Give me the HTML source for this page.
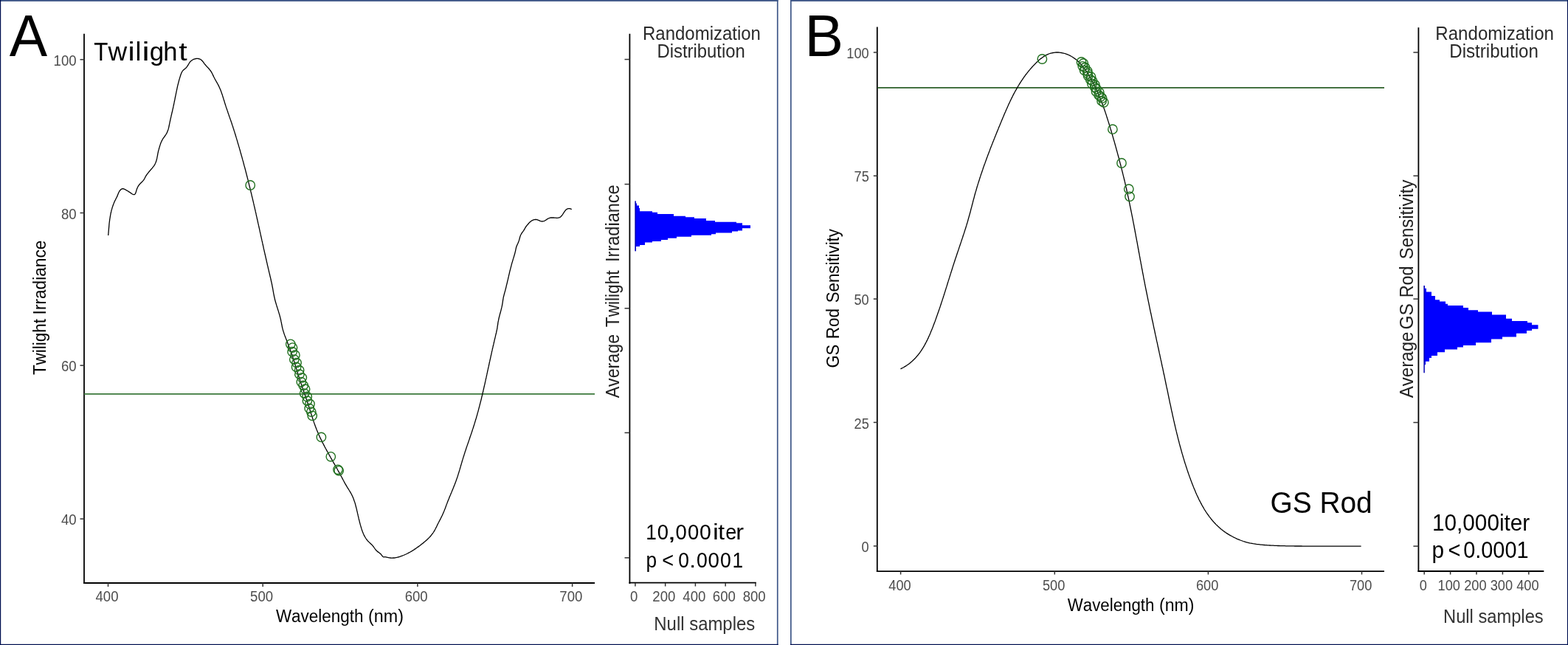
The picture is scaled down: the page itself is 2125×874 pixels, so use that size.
<!DOCTYPE html>
<html><head><meta charset="utf-8"><title>Twilight and GS Rod randomization</title>
<style>
html,body{margin:0;padding:0;background:#fff;}
body{width:2125px;height:874px;overflow:hidden;}
svg{display:block;font-family:'Liberation Sans', Arial, sans-serif;font-kerning:none;}
</style></head><body>
<svg width="2125" height="874" viewBox="0 0 2125 874">
<rect width="2125" height="874" fill="#fff"/>
<rect x="0" y="0" width="1054.6" height="1.9" fill="#3f5788"/>
<rect x="1071" y="0" width="1054" height="1.9" fill="#3f5788"/>
<rect x="0" y="0" width="1.2" height="874" fill="#001050"/>
<rect x="1052.9" y="0" width="1.7" height="874" fill="#3f5788"/>
<rect x="1071" y="0" width="1.7" height="874" fill="#3f5788"/>
<rect x="2123.9" y="0" width="1.1" height="874" fill="#001050"/>
<rect x="0" y="872.8" width="1054.6" height="1.2" fill="#001050"/>
<rect x="1071" y="872.8" width="1054" height="1.2" fill="#001050"/>
<text x="12.75" y="76.10" font-size="79.00" fill="#000" textLength="51.40" lengthAdjust="spacingAndGlyphs">A</text>
<text y="82.30" font-size="35.50" fill="#000"><tspan x="127.30" textLength="19.12" lengthAdjust="spacingAndGlyphs">T</tspan><tspan x="146.55" textLength="25.66" lengthAdjust="spacingAndGlyphs">w</tspan><tspan x="173.46" textLength="9.10" lengthAdjust="spacingAndGlyphs">i</tspan><tspan x="183.62" textLength="7.84" lengthAdjust="spacingAndGlyphs">l</tspan><tspan x="192.56" textLength="10.11" lengthAdjust="spacingAndGlyphs">i</tspan><tspan x="202.63" textLength="19.42" lengthAdjust="spacingAndGlyphs">g</tspan><tspan x="221.20" textLength="19.25" lengthAdjust="spacingAndGlyphs">h</tspan><tspan x="242.38" textLength="11.42" lengthAdjust="spacingAndGlyphs">t</tspan></text>
<line x1="114" y1="45.8" x2="114" y2="791" stroke="#000" stroke-width="1.8"/>
<line x1="113.1" y1="790" x2="806" y2="790" stroke="#000" stroke-width="1.8"/>
<line x1="108.5" y1="80.7" x2="114" y2="80.7" stroke="#333" stroke-width="1.5"/>
<text x="72.59" y="88.70" font-size="19.72" fill="#4d4d4d" textLength="31.03" lengthAdjust="spacingAndGlyphs">100</text>
<line x1="108.5" y1="288.5" x2="114" y2="288.5" stroke="#333" stroke-width="1.5"/>
<text x="82.94" y="296.50" font-size="19.72" fill="#4d4d4d" textLength="20.69" lengthAdjust="spacingAndGlyphs">80</text>
<line x1="108.5" y1="495.2" x2="114" y2="495.2" stroke="#333" stroke-width="1.5"/>
<text x="82.94" y="503.20" font-size="19.72" fill="#4d4d4d" textLength="20.69" lengthAdjust="spacingAndGlyphs">60</text>
<line x1="108.5" y1="703.1" x2="114" y2="703.1" stroke="#333" stroke-width="1.5"/>
<text x="82.94" y="711.10" font-size="19.72" fill="#4d4d4d" textLength="20.69" lengthAdjust="spacingAndGlyphs">40</text>
<line x1="146.5" y1="790" x2="146.5" y2="795" stroke="#333" stroke-width="1.5"/>
<text x="129.53" y="815.00" font-size="19.72" fill="#4d4d4d" textLength="31.03" lengthAdjust="spacingAndGlyphs">400</text>
<line x1="356.2" y1="790" x2="356.2" y2="795" stroke="#333" stroke-width="1.5"/>
<text x="339.07" y="815.00" font-size="19.72" fill="#4d4d4d" textLength="31.03" lengthAdjust="spacingAndGlyphs">500</text>
<line x1="565.9" y1="790" x2="565.9" y2="795" stroke="#333" stroke-width="1.5"/>
<text x="548.67" y="815.00" font-size="19.72" fill="#4d4d4d" textLength="31.03" lengthAdjust="spacingAndGlyphs">600</text>
<line x1="775.6" y1="790" x2="775.6" y2="795" stroke="#333" stroke-width="1.5"/>
<text x="758.37" y="815.00" font-size="19.72" fill="#4d4d4d" textLength="31.03" lengthAdjust="spacingAndGlyphs">700</text>
<text x="373.90" y="843.20" font-size="24.06" fill="#000" textLength="118.56" lengthAdjust="spacingAndGlyphs">Wavelength</text>
<text x="499.05" y="843.20" font-size="24.06" fill="#000" textLength="47.89" lengthAdjust="spacingAndGlyphs">(nm)</text>
<text x="-0.50" y="0" font-size="24.06" fill="#000" textLength="75.97" lengthAdjust="spacingAndGlyphs" transform="translate(61.6 507.6) rotate(-90)">Twilight</text>
<text x="-2.09" y="0" font-size="24.06" fill="#000" textLength="100.80" lengthAdjust="spacingAndGlyphs" transform="translate(61.6 424.3) rotate(-90)">Irradiance</text>
<line x1="114" y1="533.9" x2="806" y2="533.9" stroke="#3b783b" stroke-width="1.8"/>
<path d="M146.7 319.0 L146.8 317.8 L146.9 316.6 L147.0 315.4 L147.1 314.2 L147.2 313.0 L147.3 311.8 L147.4 310.6 L147.5 309.4 L147.6 308.2 L147.7 307.0 L147.8 305.8 L147.9 304.6 L148.0 303.4 L148.1 302.2 L148.3 301.0 L148.4 299.8 L148.6 298.6 L148.7 297.4 L148.9 296.3 L149.1 295.1 L149.3 293.9 L149.5 292.7 L149.7 291.5 L149.9 290.4 L150.1 289.2 L150.4 288.0 L150.7 286.9 L150.9 285.7 L151.2 284.6 L151.6 283.4 L151.9 282.2 L152.2 281.1 L152.6 280.0 L153.0 278.8 L153.4 277.7 L153.8 276.6 L154.3 275.4 L154.7 274.3 L155.2 273.2 L155.7 272.1 L156.3 271.0 L156.8 269.9 L157.4 268.8 L157.9 267.7 L158.5 266.6 L159.0 265.6 L159.4 264.5 L159.8 263.4 L160.2 262.4 L160.7 261.3 L161.2 260.3 L161.8 259.2 L162.5 258.2 L163.4 257.2 L164.4 256.3 L165.4 255.8 L166.5 255.6 L167.5 255.8 L168.6 256.3 L169.7 256.9 L170.8 257.5 L171.9 258.1 L173.0 258.8 L174.1 259.4 L175.1 260.1 L176.2 260.8 L177.3 261.6 L178.3 262.3 L179.3 263.0 L180.3 263.4 L181.2 263.7 L182.1 263.7 L182.8 263.2 L183.4 262.4 L183.9 261.4 L184.3 260.1 L184.7 258.7 L185.1 257.4 L185.5 256.1 L186.0 254.9 L186.5 253.8 L187.1 252.7 L187.7 251.7 L188.4 250.7 L189.2 249.8 L190.0 248.9 L190.8 248.0 L191.7 247.2 L192.6 246.3 L193.4 245.4 L194.2 244.6 L194.9 243.6 L195.5 242.7 L196.0 241.8 L196.5 240.8 L197.0 239.8 L197.5 238.8 L198.1 237.8 L198.8 236.8 L199.5 235.8 L200.3 234.8 L201.1 233.8 L201.9 232.8 L202.8 231.8 L203.6 230.8 L204.4 229.9 L205.2 229.0 L206.0 228.1 L206.8 227.1 L207.5 226.2 L208.2 225.3 L208.9 224.3 L209.5 223.3 L210.1 222.3 L210.6 221.3 L211.0 220.3 L211.4 219.2 L211.8 218.1 L212.1 217.0 L212.4 215.8 L212.7 214.7 L212.9 213.5 L213.1 212.3 L213.4 211.1 L213.6 209.9 L213.8 208.7 L214.0 207.5 L214.3 206.3 L214.5 205.1 L214.8 203.9 L215.2 202.7 L215.5 201.5 L215.8 200.3 L216.2 199.2 L216.5 198.0 L216.9 196.9 L217.2 195.8 L217.6 194.7 L218.0 193.6 L218.5 192.5 L219.0 191.4 L219.5 190.4 L220.1 189.3 L220.7 188.2 L221.4 187.2 L222.2 186.1 L222.9 185.1 L223.7 184.0 L224.4 183.0 L225.1 181.9 L225.7 180.8 L226.3 179.8 L226.7 178.7 L227.2 177.6 L227.6 176.5 L228.0 175.4 L228.3 174.3 L228.6 173.2 L228.8 172.1 L229.1 171.0 L229.3 169.8 L229.5 168.7 L229.8 167.6 L230.0 166.4 L230.2 165.3 L230.5 164.1 L230.7 163.0 L231.0 161.8 L231.2 160.7 L231.5 159.5 L231.8 158.4 L232.0 157.2 L232.3 156.0 L232.6 154.8 L232.8 153.7 L233.1 152.5 L233.4 151.3 L233.7 150.1 L233.9 148.9 L234.2 147.7 L234.5 146.6 L234.7 145.4 L235.0 144.2 L235.2 143.0 L235.5 141.8 L235.7 140.6 L236.0 139.4 L236.2 138.2 L236.5 137.0 L236.7 135.8 L237.0 134.6 L237.2 133.4 L237.4 132.2 L237.7 131.0 L237.9 129.8 L238.2 128.6 L238.4 127.5 L238.6 126.3 L238.9 125.1 L239.1 123.9 L239.4 122.7 L239.6 121.5 L239.9 120.3 L240.1 119.2 L240.4 118.0 L240.6 116.8 L240.9 115.6 L241.2 114.5 L241.5 113.3 L241.8 112.1 L242.1 111.0 L242.4 109.8 L242.7 108.7 L243.0 107.5 L243.4 106.4 L243.7 105.2 L244.1 104.1 L244.4 103.0 L244.8 101.8 L245.2 100.7 L245.6 99.6 L246.1 98.5 L246.6 97.5 L247.2 96.5 L247.9 95.5 L248.8 94.7 L249.7 93.9 L250.6 93.2 L251.6 92.4 L252.5 91.6 L253.2 90.7 L253.9 89.7 L254.6 88.7 L255.2 87.6 L255.8 86.6 L256.4 85.5 L257.1 84.5 L257.8 83.6 L258.7 82.7 L259.7 82.0 L260.7 81.3 L261.8 80.7 L263.0 80.2 L264.2 79.8 L265.4 79.5 L266.7 79.4 L267.9 79.4 L269.0 79.5 L270.1 79.8 L271.2 80.2 L272.2 80.8 L273.1 81.5 L273.9 82.3 L274.7 83.2 L275.5 84.2 L276.2 85.2 L277.0 86.3 L277.8 87.3 L278.6 88.2 L279.4 89.2 L280.3 90.1 L281.1 91.0 L282.0 91.9 L282.8 92.8 L283.6 93.7 L284.3 94.6 L285.0 95.5 L285.7 96.4 L286.3 97.4 L286.9 98.4 L287.4 99.3 L287.9 100.3 L288.4 101.4 L288.9 102.4 L289.4 103.4 L289.9 104.5 L290.5 105.5 L291.0 106.6 L291.6 107.7 L292.2 108.8 L292.8 109.9 L293.5 111.0 L294.1 112.1 L294.7 113.2 L295.3 114.3 L295.9 115.4 L296.5 116.6 L297.0 117.7 L297.5 118.8 L298.0 119.9 L298.5 121.0 L299.0 122.2 L299.4 123.3 L299.8 124.4 L300.2 125.5 L300.6 126.7 L301.0 127.8 L301.4 128.9 L301.7 130.0 L302.1 131.2 L302.4 132.3 L302.8 133.4 L303.1 134.6 L303.5 135.7 L303.8 136.8 L304.2 137.9 L304.5 139.1 L304.9 140.2 L305.2 141.3 L305.6 142.5 L306.0 143.6 L306.3 144.7 L306.7 145.9 L307.1 147.0 L307.5 148.1 L307.9 149.3 L308.3 150.4 L308.7 151.5 L309.0 152.7 L309.4 153.8 L309.8 154.9 L310.2 156.1 L310.6 157.2 L311.0 158.4 L311.4 159.5 L311.8 160.6 L312.2 161.8 L312.6 162.9 L313.0 164.0 L313.4 165.2 L313.8 166.3 L314.2 167.5 L314.5 168.6 L314.9 169.8 L315.3 170.9 L315.7 172.0 L316.0 173.2 L316.4 174.3 L316.8 175.5 L317.1 176.6 L317.5 177.8 L317.9 178.9 L318.2 180.1 L318.6 181.2 L318.9 182.3 L319.3 183.5 L319.6 184.6 L320.0 185.8 L320.3 186.9 L320.7 188.1 L321.0 189.2 L321.4 190.4 L321.7 191.5 L322.0 192.7 L322.4 193.8 L322.7 195.0 L323.1 196.1 L323.4 197.3 L323.7 198.4 L324.1 199.6 L324.4 200.7 L324.7 201.9 L325.1 203.0 L325.4 204.2 L325.7 205.3 L326.0 206.5 L326.4 207.7 L326.7 208.8 L327.0 210.0 L327.3 211.1 L327.7 212.3 L328.0 213.4 L328.3 214.6 L328.6 215.7 L328.9 216.9 L329.3 218.1 L329.6 219.2 L329.9 220.4 L330.2 221.5 L330.5 222.7 L330.8 223.9 L331.1 225.0 L331.5 226.2 L331.8 227.3 L332.1 228.5 L332.4 229.7 L332.7 230.8 L333.0 232.0 L333.3 233.1 L333.6 234.3 L333.9 235.5 L334.2 236.6 L334.5 237.8 L334.8 239.0 L335.1 240.1 L335.4 241.3 L335.7 242.4 L336.0 243.6 L336.3 244.8 L336.6 245.9 L336.9 247.1 L337.2 248.3 L337.4 249.4 L337.7 250.6 L338.0 251.8 L338.3 252.9 L338.6 254.1 L338.9 255.3 L339.2 256.4 L339.5 257.6 L339.7 258.8 L340.0 259.9 L340.3 261.1 L340.6 262.3 L340.9 263.4 L341.1 264.6 L341.4 265.8 L341.7 267.0 L342.0 268.1 L342.3 269.3 L342.5 270.5 L342.8 271.6 L343.1 272.8 L343.4 274.0 L343.6 275.2 L343.9 276.3 L344.2 277.5 L344.4 278.7 L344.7 279.8 L345.0 281.0 L345.3 282.2 L345.5 283.4 L345.8 284.5 L346.1 285.7 L346.3 286.9 L346.6 288.1 L346.9 289.2 L347.1 290.4 L347.4 291.6 L347.6 292.8 L347.9 293.9 L348.2 295.1 L348.4 296.3 L348.7 297.5 L349.0 298.6 L349.2 299.8 L349.5 301.0 L349.7 302.2 L350.0 303.3 L350.3 304.5 L350.5 305.7 L350.8 306.9 L351.0 308.0 L351.3 309.2 L351.6 310.4 L351.8 311.6 L352.1 312.7 L352.3 313.9 L352.6 315.1 L352.9 316.3 L353.1 317.4 L353.4 318.6 L353.6 319.8 L353.9 321.0 L354.2 322.1 L354.4 323.3 L354.7 324.5 L354.9 325.7 L355.2 326.8 L355.5 328.0 L355.7 329.2 L356.0 330.4 L356.2 331.5 L356.5 332.7 L356.8 333.9 L357.0 335.1 L357.3 336.3 L357.5 337.4 L357.8 338.6 L358.1 339.8 L358.3 341.0 L358.6 342.1 L358.9 343.3 L359.1 344.5 L359.4 345.7 L359.7 346.8 L359.9 348.0 L360.2 349.2 L360.5 350.4 L360.7 351.5 L361.0 352.7 L361.3 353.9 L361.5 355.1 L361.8 356.2 L362.1 357.4 L362.3 358.6 L362.6 359.8 L362.9 360.9 L363.2 362.1 L363.4 363.3 L363.7 364.4 L364.0 365.6 L364.3 366.8 L364.5 368.0 L364.8 369.1 L365.1 370.3 L365.4 371.5 L365.7 372.6 L365.9 373.8 L366.2 375.0 L366.5 376.2 L366.8 377.3 L367.0 378.5 L367.3 379.7 L367.5 380.8 L367.8 382.0 L368.1 383.2 L368.3 384.3 L368.6 385.5 L368.8 386.7 L369.0 387.9 L369.2 389.0 L369.5 390.2 L369.7 391.4 L369.9 392.5 L370.1 393.7 L370.3 394.9 L370.5 396.0 L370.7 397.2 L370.9 398.3 L371.2 399.5 L371.4 400.7 L371.6 401.8 L371.9 403.0 L372.2 404.2 L372.4 405.3 L372.7 406.5 L373.0 407.7 L373.3 408.8 L373.7 410.0 L374.0 411.1 L374.4 412.3 L374.7 413.5 L375.1 414.6 L375.4 415.8 L375.8 416.9 L376.2 418.1 L376.5 419.3 L376.9 420.4 L377.3 421.6 L377.6 422.7 L378.0 423.9 L378.3 425.0 L378.7 426.2 L379.0 427.3 L379.3 428.5 L379.6 429.7 L379.9 430.8 L380.2 432.0 L380.5 433.1 L380.7 434.3 L380.9 435.4 L381.2 436.6 L381.4 437.7 L381.6 438.9 L381.8 440.0 L382.1 441.2 L382.3 442.3 L382.5 443.5 L382.8 444.6 L383.1 445.8 L383.4 446.9 L383.7 448.0 L384.1 449.2 L384.5 450.3 L384.8 451.5 L385.2 452.6 L385.6 453.8 L386.0 454.9 L386.5 456.1 L386.9 457.2 L387.3 458.3 L387.8 459.5 L388.2 460.6 L388.7 461.8 L389.1 462.9 L389.6 464.1 L390.0 465.2 L390.4 466.3 L390.9 467.5 L391.3 468.6 L391.7 469.8 L392.2 470.9 L392.6 472.1 L393.0 473.2 L393.4 474.3 L393.9 475.5 L394.3 476.6 L394.7 477.8 L395.1 478.9 L395.5 480.0 L395.8 481.2 L396.2 482.3 L396.6 483.5 L397.0 484.6 L397.4 485.7 L397.7 486.9 L398.1 488.0 L398.4 489.2 L398.8 490.3 L399.2 491.4 L399.5 492.6 L399.9 493.7 L400.2 494.9 L400.6 496.0 L400.9 497.1 L401.3 498.3 L401.6 499.4 L402.0 500.6 L402.3 501.7 L402.7 502.9 L403.0 504.0 L403.4 505.1 L403.7 506.3 L404.1 507.4 L404.4 508.6 L404.8 509.7 L405.2 510.9 L405.5 512.0 L405.9 513.1 L406.3 514.3 L406.6 515.4 L407.0 516.6 L407.4 517.7 L407.8 518.9 L408.1 520.0 L408.5 521.2 L408.9 522.3 L409.3 523.5 L409.7 524.6 L410.1 525.7 L410.5 526.9 L410.9 528.0 L411.3 529.2 L411.6 530.3 L412.0 531.5 L412.4 532.6 L412.8 533.8 L413.2 534.9 L413.6 536.1 L414.0 537.2 L414.4 538.3 L414.8 539.5 L415.2 540.6 L415.5 541.8 L415.9 542.9 L416.3 544.1 L416.7 545.2 L417.1 546.3 L417.4 547.5 L417.8 548.6 L418.2 549.8 L418.6 550.9 L418.9 552.0 L419.3 553.2 L419.6 554.3 L420.0 555.4 L420.4 556.6 L420.7 557.7 L421.1 558.8 L421.4 560.0 L421.8 561.1 L422.2 562.2 L422.5 563.4 L422.9 564.5 L423.3 565.6 L423.6 566.8 L424.0 567.9 L424.4 569.0 L424.8 570.1 L425.1 571.2 L425.5 572.4 L425.9 573.5 L426.3 574.6 L426.7 575.7 L427.1 576.8 L427.5 578.0 L427.9 579.1 L428.4 580.2 L428.8 581.3 L429.2 582.4 L429.7 583.5 L430.1 584.6 L430.6 585.7 L431.1 586.8 L431.6 587.9 L432.0 589.0 L432.5 590.1 L433.0 591.2 L433.5 592.3 L434.0 593.4 L434.6 594.5 L435.1 595.6 L435.6 596.7 L436.2 597.7 L436.7 598.8 L437.2 599.9 L437.8 601.0 L438.4 602.1 L438.9 603.2 L439.5 604.2 L440.0 605.3 L440.6 606.4 L441.2 607.5 L441.8 608.5 L442.4 609.6 L442.9 610.7 L443.5 611.7 L444.1 612.8 L444.7 613.9 L445.3 614.9 L445.9 616.0 L446.5 617.1 L447.1 618.1 L447.7 619.2 L448.3 620.3 L448.9 621.3 L449.5 622.4 L450.1 623.4 L450.7 624.5 L451.3 625.5 L451.9 626.6 L452.5 627.6 L453.1 628.7 L453.7 629.7 L454.3 630.8 L454.9 631.8 L455.5 632.9 L456.1 633.9 L456.7 635.0 L457.3 636.0 L457.8 637.0 L458.4 638.1 L459.0 639.1 L459.6 640.1 L460.1 641.2 L460.7 642.2 L461.3 643.3 L461.8 644.3 L462.4 645.3 L462.9 646.3 L463.5 647.4 L464.0 648.4 L464.6 649.4 L465.1 650.5 L465.7 651.5 L466.2 652.5 L466.8 653.6 L467.3 654.6 L467.9 655.6 L468.5 656.7 L469.1 657.7 L469.7 658.7 L470.4 659.8 L471.0 660.8 L471.7 661.9 L472.3 662.9 L473.0 664.0 L473.6 665.0 L474.3 666.1 L474.9 667.2 L475.5 668.2 L476.1 669.3 L476.7 670.4 L477.2 671.5 L477.7 672.6 L478.2 673.7 L478.7 674.8 L479.1 675.9 L479.5 677.0 L479.9 678.2 L480.3 679.3 L480.7 680.4 L481.1 681.6 L481.4 682.7 L481.7 683.8 L482.0 685.0 L482.3 686.1 L482.6 687.3 L482.9 688.4 L483.2 689.6 L483.5 690.7 L483.7 691.9 L484.0 693.1 L484.3 694.2 L484.5 695.4 L484.8 696.6 L485.1 697.7 L485.3 698.9 L485.6 700.1 L485.9 701.2 L486.1 702.4 L486.4 703.6 L486.7 704.7 L487.0 705.9 L487.3 707.1 L487.6 708.3 L487.9 709.4 L488.2 710.6 L488.5 711.7 L488.9 712.9 L489.2 714.1 L489.6 715.2 L489.9 716.4 L490.3 717.5 L490.7 718.7 L491.1 719.8 L491.5 721.0 L492.0 722.1 L492.4 723.2 L492.9 724.3 L493.4 725.4 L494.0 726.4 L494.6 727.5 L495.2 728.5 L495.8 729.5 L496.5 730.5 L497.2 731.4 L497.9 732.4 L498.7 733.2 L499.6 734.1 L500.4 734.9 L501.3 735.8 L502.2 736.6 L503.1 737.4 L504.0 738.3 L504.8 739.1 L505.6 740.1 L506.3 741.0 L507.0 742.0 L507.7 743.0 L508.4 744.0 L509.1 745.0 L509.9 745.8 L510.7 746.6 L511.6 747.4 L512.6 748.1 L513.6 748.8 L514.5 749.5 L515.4 750.3 L516.3 751.1 L517.1 752.1 L517.9 753.1 L518.6 754.0 L519.4 754.6 L520.2 754.8 L521.1 754.7 L522.0 754.7 L523.1 754.8 L524.3 755.1 L525.5 755.4 L526.7 755.6 L528.0 755.9 L529.2 756.0 L530.4 756.1 L531.6 756.1 L532.8 756.0 L534.0 756.0 L535.2 755.8 L536.4 755.6 L537.6 755.4 L538.8 755.1 L539.9 754.8 L541.1 754.5 L542.3 754.1 L543.4 753.7 L544.5 753.3 L545.6 752.9 L546.8 752.5 L547.9 752.0 L549.0 751.5 L550.1 751.0 L551.1 750.5 L552.2 750.0 L553.3 749.4 L554.3 748.9 L555.4 748.3 L556.4 747.7 L557.5 747.1 L558.5 746.5 L559.5 745.9 L560.5 745.2 L561.5 744.6 L562.5 743.9 L563.5 743.2 L564.5 742.5 L565.5 741.8 L566.5 741.1 L567.5 740.4 L568.4 739.7 L569.4 739.0 L570.3 738.3 L571.3 737.5 L572.2 736.8 L573.2 736.1 L574.1 735.3 L575.0 734.5 L575.9 733.8 L576.8 733.0 L577.7 732.2 L578.6 731.4 L579.5 730.6 L580.3 729.8 L581.2 728.9 L582.0 728.1 L582.8 727.2 L583.6 726.3 L584.4 725.3 L585.1 724.4 L585.9 723.4 L586.6 722.5 L587.3 721.5 L588.0 720.4 L588.6 719.4 L589.2 718.4 L589.8 717.3 L590.3 716.3 L590.8 715.2 L591.4 714.1 L591.9 713.1 L592.4 712.0 L592.9 710.9 L593.5 709.8 L594.0 708.8 L594.6 707.7 L595.1 706.6 L595.7 705.5 L596.3 704.4 L596.8 703.4 L597.4 702.3 L597.9 701.2 L598.4 700.1 L599.0 699.0 L599.5 697.9 L600.0 696.8 L600.5 695.7 L600.9 694.6 L601.4 693.6 L601.9 692.5 L602.3 691.4 L602.7 690.3 L603.2 689.2 L603.6 688.1 L604.0 687.0 L604.4 685.9 L604.8 684.8 L605.2 683.6 L605.7 682.5 L606.1 681.4 L606.5 680.3 L606.9 679.2 L607.4 678.1 L607.8 677.0 L608.3 675.9 L608.7 674.8 L609.2 673.6 L609.6 672.5 L610.1 671.4 L610.6 670.3 L611.0 669.2 L611.5 668.1 L612.0 666.9 L612.4 665.8 L612.9 664.7 L613.4 663.6 L613.8 662.5 L614.3 661.3 L614.7 660.2 L615.2 659.1 L615.6 658.0 L616.1 656.8 L616.5 655.7 L617.0 654.6 L617.4 653.4 L617.8 652.3 L618.2 651.2 L618.6 650.0 L619.0 648.9 L619.4 647.8 L619.8 646.6 L620.2 645.5 L620.5 644.4 L620.9 643.2 L621.2 642.1 L621.6 641.0 L621.9 639.8 L622.3 638.7 L622.6 637.6 L623.0 636.4 L623.3 635.3 L623.6 634.1 L624.0 633.0 L624.3 631.9 L624.6 630.7 L625.0 629.6 L625.3 628.4 L625.6 627.3 L626.0 626.2 L626.3 625.0 L626.6 623.9 L627.0 622.7 L627.3 621.6 L627.7 620.5 L628.0 619.3 L628.4 618.2 L628.8 617.0 L629.1 615.9 L629.5 614.7 L629.9 613.6 L630.2 612.4 L630.6 611.3 L631.0 610.2 L631.4 609.0 L631.7 607.9 L632.1 606.7 L632.5 605.6 L632.9 604.4 L633.3 603.3 L633.7 602.1 L634.1 601.0 L634.5 599.8 L634.9 598.7 L635.3 597.5 L635.7 596.4 L636.1 595.2 L636.5 594.1 L636.8 593.0 L637.2 591.8 L637.6 590.7 L638.0 589.5 L638.4 588.4 L638.8 587.2 L639.2 586.1 L639.6 584.9 L640.0 583.8 L640.3 582.6 L640.7 581.4 L641.1 580.3 L641.5 579.1 L641.8 578.0 L642.2 576.8 L642.6 575.7 L642.9 574.5 L643.3 573.4 L643.6 572.2 L644.0 571.1 L644.3 569.9 L644.7 568.8 L645.0 567.6 L645.4 566.5 L645.7 565.3 L646.0 564.1 L646.4 563.0 L646.7 561.8 L647.0 560.7 L647.3 559.5 L647.7 558.4 L648.0 557.2 L648.3 556.1 L648.6 554.9 L648.9 553.7 L649.2 552.6 L649.5 551.4 L649.8 550.3 L650.1 549.1 L650.4 547.9 L650.7 546.8 L651.0 545.6 L651.3 544.5 L651.6 543.3 L651.9 542.1 L652.2 541.0 L652.5 539.8 L652.7 538.7 L653.0 537.5 L653.3 536.3 L653.6 535.2 L653.9 534.0 L654.1 532.9 L654.4 531.7 L654.7 530.5 L654.9 529.4 L655.2 528.2 L655.5 527.0 L655.7 525.9 L656.0 524.7 L656.3 523.5 L656.5 522.4 L656.8 521.2 L657.1 520.1 L657.3 518.9 L657.6 517.7 L657.8 516.6 L658.1 515.4 L658.3 514.2 L658.6 513.1 L658.9 511.9 L659.1 510.7 L659.4 509.6 L659.6 508.4 L659.9 507.2 L660.1 506.0 L660.4 504.9 L660.6 503.7 L660.9 502.5 L661.1 501.4 L661.4 500.2 L661.6 499.0 L661.9 497.9 L662.2 496.7 L662.4 495.5 L662.7 494.3 L662.9 493.2 L663.2 492.0 L663.4 490.8 L663.7 489.7 L663.9 488.5 L664.2 487.3 L664.5 486.1 L664.7 485.0 L665.0 483.8 L665.2 482.6 L665.5 481.4 L665.8 480.3 L666.0 479.1 L666.3 477.9 L666.5 476.7 L666.8 475.6 L667.1 474.4 L667.3 473.2 L667.6 472.0 L667.9 470.9 L668.1 469.7 L668.4 468.5 L668.7 467.3 L669.0 466.2 L669.2 465.0 L669.5 463.8 L669.8 462.6 L670.0 461.5 L670.3 460.3 L670.6 459.1 L670.9 457.9 L671.2 456.7 L671.4 455.6 L671.7 454.4 L672.0 453.2 L672.3 452.0 L672.6 450.9 L672.8 449.7 L673.1 448.5 L673.3 447.3 L673.6 446.2 L673.8 445.0 L674.0 443.8 L674.1 442.6 L674.3 441.4 L674.5 440.3 L674.7 439.1 L674.8 437.9 L675.0 436.7 L675.2 435.6 L675.5 434.4 L675.7 433.2 L676.0 432.0 L676.2 430.9 L676.5 429.7 L676.8 428.5 L677.1 427.3 L677.4 426.2 L677.7 425.0 L678.1 423.8 L678.4 422.6 L678.7 421.4 L679.0 420.3 L679.3 419.1 L679.6 417.9 L679.9 416.7 L680.1 415.6 L680.4 414.4 L680.6 413.2 L680.8 412.1 L681.0 410.9 L681.2 409.7 L681.4 408.5 L681.5 407.4 L681.7 406.2 L681.9 405.0 L682.1 403.8 L682.3 402.7 L682.6 401.5 L682.9 400.3 L683.2 399.2 L683.5 398.0 L683.8 396.8 L684.1 395.7 L684.5 394.5 L684.8 393.3 L685.1 392.1 L685.4 391.0 L685.7 389.8 L686.0 388.6 L686.2 387.5 L686.5 386.3 L686.8 385.1 L687.1 384.0 L687.4 382.8 L687.6 381.6 L687.9 380.5 L688.2 379.3 L688.5 378.2 L688.7 377.0 L689.0 375.8 L689.3 374.7 L689.5 373.5 L689.8 372.3 L690.1 371.2 L690.4 370.0 L690.6 368.9 L690.9 367.7 L691.2 366.5 L691.5 365.4 L691.8 364.2 L692.1 363.1 L692.4 361.9 L692.7 360.8 L693.0 359.6 L693.3 358.4 L693.6 357.3 L693.9 356.1 L694.3 355.0 L694.6 353.8 L695.0 352.7 L695.3 351.5 L695.7 350.4 L696.0 349.2 L696.4 348.1 L696.7 346.9 L697.1 345.8 L697.4 344.6 L697.7 343.5 L698.0 342.3 L698.3 341.2 L698.6 340.0 L698.8 338.9 L699.0 337.8 L699.3 336.6 L699.5 335.5 L699.9 334.3 L700.3 333.2 L700.8 332.0 L701.3 330.9 L701.9 329.8 L702.4 328.6 L702.8 327.5 L703.2 326.4 L703.6 325.2 L703.9 324.1 L704.2 323.0 L704.5 321.8 L704.8 320.7 L705.2 319.6 L705.6 318.5 L706.2 317.5 L706.8 316.4 L707.5 315.3 L708.2 314.3 L709.0 313.3 L709.7 312.3 L710.3 311.3 L710.9 310.3 L711.5 309.3 L712.0 308.4 L712.6 307.4 L713.3 306.5 L714.0 305.6 L714.8 304.6 L715.6 303.7 L716.4 302.8 L717.2 301.9 L718.1 301.0 L719.0 300.2 L720.0 299.5 L721.0 298.8 L722.0 298.3 L723.1 297.9 L724.2 297.6 L725.3 297.5 L726.5 297.5 L727.8 297.7 L729.0 298.1 L730.2 298.6 L731.4 299.1 L732.5 299.6 L733.7 299.9 L734.8 300.0 L735.8 299.9 L736.9 299.7 L737.9 299.3 L738.9 298.7 L740.0 298.1 L741.0 297.3 L742.1 296.6 L743.2 296.0 L744.3 295.6 L745.5 295.2 L746.7 295.0 L747.9 294.9 L749.1 295.0 L750.4 295.0 L751.6 295.1 L752.9 295.2 L754.1 295.3 L755.2 295.3 L756.4 295.2 L757.4 295.0 L758.5 294.6 L759.4 294.1 L760.2 293.4 L761.0 292.5 L761.8 291.6 L762.5 290.6 L763.2 289.5 L763.9 288.4 L764.6 287.4 L765.3 286.3 L766.0 285.4 L766.8 284.5 L767.6 283.8 L768.5 283.2 L769.5 282.8 L770.6 282.6 L771.9 282.7 L773.3 283.0 L774.8 283.6" fill="none" stroke="#000" stroke-width="1.3" stroke-linejoin="round"/>
<circle cx="339.2" cy="251.0" r="6.2" fill="none" stroke="#21701f" stroke-width="1.4"/>
<circle cx="393.8" cy="466.3" r="6.2" fill="none" stroke="#21701f" stroke-width="1.4"/>
<circle cx="396.5" cy="471.1" r="6.2" fill="none" stroke="#21701f" stroke-width="1.4"/>
<circle cx="396.1" cy="476.7" r="6.2" fill="none" stroke="#21701f" stroke-width="1.4"/>
<circle cx="399.9" cy="481.2" r="6.2" fill="none" stroke="#21701f" stroke-width="1.4"/>
<circle cx="398.8" cy="487.1" r="6.2" fill="none" stroke="#21701f" stroke-width="1.4"/>
<circle cx="402.1" cy="491.7" r="6.2" fill="none" stroke="#21701f" stroke-width="1.4"/>
<circle cx="401.6" cy="497.4" r="6.2" fill="none" stroke="#21701f" stroke-width="1.4"/>
<circle cx="405.6" cy="501.7" r="6.2" fill="none" stroke="#21701f" stroke-width="1.4"/>
<circle cx="405.9" cy="507.2" r="6.2" fill="none" stroke="#21701f" stroke-width="1.4"/>
<circle cx="409.3" cy="511.8" r="6.2" fill="none" stroke="#21701f" stroke-width="1.4"/>
<circle cx="408.3" cy="517.6" r="6.2" fill="none" stroke="#21701f" stroke-width="1.4"/>
<circle cx="411.2" cy="522.3" r="6.2" fill="none" stroke="#21701f" stroke-width="1.4"/>
<circle cx="413.6" cy="527.2" r="6.2" fill="none" stroke="#21701f" stroke-width="1.4"/>
<circle cx="412.6" cy="533.1" r="6.2" fill="none" stroke="#21701f" stroke-width="1.4"/>
<circle cx="416.2" cy="537.5" r="6.2" fill="none" stroke="#21701f" stroke-width="1.4"/>
<circle cx="416.4" cy="543.1" r="6.2" fill="none" stroke="#21701f" stroke-width="1.4"/>
<circle cx="420.0" cy="547.5" r="6.2" fill="none" stroke="#21701f" stroke-width="1.4"/>
<circle cx="419.2" cy="553.4" r="6.2" fill="none" stroke="#21701f" stroke-width="1.4"/>
<circle cx="421.8" cy="558.1" r="6.2" fill="none" stroke="#21701f" stroke-width="1.4"/>
<circle cx="423.2" cy="563.3" r="6.2" fill="none" stroke="#21701f" stroke-width="1.4"/>
<circle cx="435.4" cy="592.4" r="6.2" fill="none" stroke="#21701f" stroke-width="1.4"/>
<circle cx="448.3" cy="618.8" r="6.2" fill="none" stroke="#21701f" stroke-width="1.4"/>
<circle cx="458.0" cy="636.3" r="6.2" fill="none" stroke="#21701f" stroke-width="1.4"/>
<circle cx="459.2" cy="637.8" r="6.2" fill="none" stroke="#21701f" stroke-width="1.4"/>
<line x1="853.4" y1="45.8" x2="853.4" y2="791" stroke="#000" stroke-width="1.8"/>
<line x1="852.5" y1="789.7" x2="1024.8" y2="789.7" stroke="#000" stroke-width="1.8"/>
<line x1="846.5" y1="80.5" x2="853.4" y2="80.5" stroke="#333" stroke-width="1.5"/>
<line x1="846.5" y1="249.6" x2="853.4" y2="249.6" stroke="#333" stroke-width="1.5"/>
<line x1="846.5" y1="417.8" x2="853.4" y2="417.8" stroke="#333" stroke-width="1.5"/>
<line x1="846.5" y1="586.4" x2="853.4" y2="586.4" stroke="#333" stroke-width="1.5"/>
<line x1="846.5" y1="755.8" x2="853.4" y2="755.8" stroke="#333" stroke-width="1.5"/>
<line x1="860.9" y1="790" x2="860.9" y2="794.5" stroke="#333" stroke-width="1.5"/>
<text x="854.03" y="815.00" font-size="19.72" fill="#4d4d4d" textLength="10.34" lengthAdjust="spacingAndGlyphs">0</text>
<line x1="901.65" y1="790" x2="901.65" y2="794.5" stroke="#333" stroke-width="1.5"/>
<text x="884.33" y="815.00" font-size="19.72" fill="#4d4d4d" textLength="31.03" lengthAdjust="spacingAndGlyphs">200</text>
<line x1="942.4" y1="790" x2="942.4" y2="794.5" stroke="#333" stroke-width="1.5"/>
<text x="925.33" y="815.00" font-size="19.72" fill="#4d4d4d" textLength="31.03" lengthAdjust="spacingAndGlyphs">400</text>
<line x1="983.15" y1="790" x2="983.15" y2="794.5" stroke="#333" stroke-width="1.5"/>
<text x="965.82" y="815.00" font-size="19.72" fill="#4d4d4d" textLength="31.03" lengthAdjust="spacingAndGlyphs">600</text>
<line x1="1023.9" y1="790" x2="1023.9" y2="794.5" stroke="#333" stroke-width="1.5"/>
<text x="1006.64" y="815.00" font-size="19.72" fill="#4d4d4d" textLength="31.03" lengthAdjust="spacingAndGlyphs">800</text>
<path d="M860.6 340.3 L860.6 272.4 L861.8 272.4 L861.8 275.4 L863 275.4 L863 278.5 L866 278.5 L866 282 L867 282 L867 286.3 L884 286.3 L884 287.8 L891 287.8 L891 289.9 L913 289.9 L913 292.7 L929 292.7 L929 294.3 L941 294.3 L941 296 L957 296 L957 299 L969 299 L969 300.7 L998 300.7 L998 302.2 L1006 302.2 L1006 305.3 L1017 305.3 L1017 309.2 L1006 309.2 L1006 312.5 L1000 312.5 L1000 313.5 L992 313.5 L992 315.6 L970 315.6 L970 317.2 L964 317.2 L964 318.7 L937 318.7 L937 320.8 L917 320.8 L917 322.8 L905 322.8 L905 324.9 L896 324.9 L896 327 L884 327 L884 328.5 L874 328.5 L874 332 L867 332 L867 334 L862 334 L862 340.3 Z" fill="#0000ff"/>
<line x1="861.1" y1="272.4" x2="861.1" y2="340.3" stroke="#00008a" stroke-width="1"/>
<text x="871.03" y="53.80" font-size="25.55" fill="#2b2b2b" textLength="159.92" lengthAdjust="spacingAndGlyphs">Randomization</text>
<text x="890.44" y="78.20" font-size="25.55" fill="#2b2b2b" textLength="119.41" lengthAdjust="spacingAndGlyphs">Distribution</text>
<text x="886.34" y="853.60" font-size="25.55" fill="#333" textLength="136.93" lengthAdjust="spacingAndGlyphs">Null samples</text>
<text x="-0.05" y="0" font-size="25.00" fill="#222" textLength="86.38" lengthAdjust="spacingAndGlyphs" transform="translate(838.6 539.3) rotate(-90)">Average</text>
<text x="-0.51" y="0" font-size="25.00" fill="#222" textLength="76.77" lengthAdjust="spacingAndGlyphs" transform="translate(838.6 442.7) rotate(-90)">Twilight</text>
<text x="-2.17" y="0" font-size="25.00" fill="#222" textLength="104.62" lengthAdjust="spacingAndGlyphs" transform="translate(838.6 352.8) rotate(-90)">Irradiance</text>
<text y="731.10" font-size="28.80" fill="#000"><tspan x="875.20" textLength="14.58" lengthAdjust="spacingAndGlyphs">1</tspan><tspan x="890.83" textLength="15.24" lengthAdjust="spacingAndGlyphs">0</tspan><tspan x="904.56" textLength="11.89" lengthAdjust="spacingAndGlyphs">,</tspan><tspan x="915.53" textLength="15.24" lengthAdjust="spacingAndGlyphs">0</tspan><tspan x="932.03" textLength="15.24" lengthAdjust="spacingAndGlyphs">0</tspan><tspan x="947.99" textLength="15.82" lengthAdjust="spacingAndGlyphs">0</tspan><tspan x="965.94" textLength="7.84" lengthAdjust="spacingAndGlyphs">i</tspan><tspan x="973.32" textLength="8.81" lengthAdjust="spacingAndGlyphs">t</tspan><tspan x="983.15" textLength="15.05" lengthAdjust="spacingAndGlyphs">e</tspan><tspan x="997.35" textLength="10.79" lengthAdjust="spacingAndGlyphs">r</tspan></text>
<text y="768.70" font-size="28.80" fill="#000"><tspan x="875.51" textLength="14.59" lengthAdjust="spacingAndGlyphs">p</tspan><tspan> </tspan><tspan x="897.36" textLength="15.87" lengthAdjust="spacingAndGlyphs">&lt;</tspan><tspan> </tspan><tspan x="919.27" textLength="14.66" lengthAdjust="spacingAndGlyphs">0</tspan><tspan x="934.32" textLength="8.75" lengthAdjust="spacingAndGlyphs">.</tspan><tspan x="943.96" textLength="14.78" lengthAdjust="spacingAndGlyphs">0</tspan><tspan x="959.42" textLength="15.36" lengthAdjust="spacingAndGlyphs">0</tspan><tspan x="975.96" textLength="14.78" lengthAdjust="spacingAndGlyphs">0</tspan><tspan x="992.40" textLength="14.58" lengthAdjust="spacingAndGlyphs">1</tspan></text>
<text x="1090.54" y="76.10" font-size="79.50" fill="#000" textLength="52.51" lengthAdjust="spacingAndGlyphs">B</text>
<line x1="1188.8" y1="36.5" x2="1188.8" y2="775" stroke="#000" stroke-width="1.8"/>
<line x1="1187.9" y1="774.2" x2="1876" y2="774.2" stroke="#000" stroke-width="1.8"/>
<line x1="1183.8" y1="71" x2="1188.8" y2="71" stroke="#333" stroke-width="1.5"/>
<text x="1147.35" y="79.10" font-size="19.29" fill="#4d4d4d" textLength="30.37" lengthAdjust="spacingAndGlyphs">100</text>
<line x1="1183.8" y1="238.3" x2="1188.8" y2="238.3" stroke="#333" stroke-width="1.5"/>
<text x="1157.52" y="246.40" font-size="19.29" fill="#4d4d4d" textLength="20.24" lengthAdjust="spacingAndGlyphs">75</text>
<line x1="1183.8" y1="405.1" x2="1188.8" y2="405.1" stroke="#333" stroke-width="1.5"/>
<text x="1157.47" y="413.20" font-size="19.29" fill="#4d4d4d" textLength="20.24" lengthAdjust="spacingAndGlyphs">50</text>
<line x1="1183.8" y1="572.4" x2="1188.8" y2="572.4" stroke="#333" stroke-width="1.5"/>
<text x="1157.52" y="580.50" font-size="19.29" fill="#4d4d4d" textLength="20.24" lengthAdjust="spacingAndGlyphs">25</text>
<line x1="1183.8" y1="739.9" x2="1188.8" y2="739.9" stroke="#333" stroke-width="1.5"/>
<text x="1167.59" y="748.00" font-size="19.29" fill="#4d4d4d" textLength="10.12" lengthAdjust="spacingAndGlyphs">0</text>
<line x1="1220.6" y1="774.2" x2="1220.6" y2="778.5" stroke="#333" stroke-width="1.5"/>
<text x="1204.36" y="799.60" font-size="19.29" fill="#4d4d4d" textLength="30.37" lengthAdjust="spacingAndGlyphs">400</text>
<line x1="1429.3" y1="774.2" x2="1429.3" y2="778.5" stroke="#333" stroke-width="1.5"/>
<text x="1412.91" y="799.60" font-size="19.29" fill="#4d4d4d" textLength="30.37" lengthAdjust="spacingAndGlyphs">500</text>
<line x1="1637.4" y1="774.2" x2="1637.4" y2="778.5" stroke="#333" stroke-width="1.5"/>
<text x="1620.91" y="799.60" font-size="19.29" fill="#4d4d4d" textLength="30.37" lengthAdjust="spacingAndGlyphs">600</text>
<line x1="1845.5" y1="774.2" x2="1845.5" y2="778.5" stroke="#333" stroke-width="1.5"/>
<text x="1829.01" y="799.60" font-size="19.29" fill="#4d4d4d" textLength="30.37" lengthAdjust="spacingAndGlyphs">700</text>
<text x="1446.80" y="827.50" font-size="24.06" fill="#000" textLength="117.64" lengthAdjust="spacingAndGlyphs">Wavelength</text>
<text x="1570.97" y="827.50" font-size="24.06" fill="#000" textLength="47.36" lengthAdjust="spacingAndGlyphs">(nm)</text>
<text x="-1.11" y="0" font-size="24.06" fill="#000" textLength="31.82" lengthAdjust="spacingAndGlyphs" transform="translate(1136.8 497.4) rotate(-90)">GS</text>
<text x="-1.84" y="0" font-size="24.06" fill="#000" textLength="41.19" lengthAdjust="spacingAndGlyphs" transform="translate(1136.8 457.4) rotate(-90)">Rod</text>
<text x="-1.01" y="0" font-size="24.06" fill="#000" textLength="100.25" lengthAdjust="spacingAndGlyphs" transform="translate(1136.8 409.3) rotate(-90)">Sensitivity</text>
<line x1="1189" y1="118.8" x2="1876" y2="118.8" stroke="#2b5f28" stroke-width="1.8"/>
<path d="M1220.5 499.9 L1221.9 499.2 L1223.3 498.5 L1224.7 497.7 L1226.0 496.9 L1227.4 496.1 L1228.6 495.3 L1229.9 494.5 L1231.1 493.6 L1232.3 492.7 L1233.5 491.7 L1234.6 490.8 L1235.8 489.8 L1236.9 488.8 L1237.9 487.8 L1239.0 486.8 L1240.0 485.7 L1241.0 484.6 L1242.0 483.5 L1242.9 482.4 L1243.9 481.3 L1244.8 480.1 L1245.7 479.0 L1246.6 477.8 L1247.4 476.6 L1248.3 475.4 L1249.1 474.1 L1249.9 472.9 L1250.7 471.6 L1251.5 470.3 L1252.2 469.1 L1253.0 467.8 L1253.7 466.4 L1254.4 465.1 L1255.1 463.8 L1255.8 462.4 L1256.5 461.1 L1257.1 459.7 L1257.8 458.4 L1258.4 457.0 L1259.0 455.6 L1259.7 454.2 L1260.3 452.8 L1260.9 451.4 L1261.4 450.0 L1262.0 448.6 L1262.6 447.2 L1263.2 445.8 L1263.7 444.4 L1264.3 443.0 L1264.8 441.6 L1265.4 440.1 L1265.9 438.7 L1266.4 437.3 L1267.0 435.9 L1267.5 434.5 L1268.0 433.1 L1268.5 431.6 L1269.0 430.2 L1269.5 428.8 L1270.0 427.4 L1270.5 426.0 L1271.0 424.5 L1271.5 423.1 L1272.0 421.7 L1272.5 420.3 L1273.0 418.9 L1273.5 417.4 L1274.0 416.0 L1274.4 414.6 L1274.9 413.2 L1275.4 411.8 L1275.8 410.3 L1276.3 408.9 L1276.8 407.5 L1277.2 406.1 L1277.7 404.6 L1278.2 403.2 L1278.6 401.8 L1279.1 400.4 L1279.5 399.0 L1280.0 397.5 L1280.4 396.1 L1280.9 394.7 L1281.3 393.3 L1281.8 391.8 L1282.2 390.4 L1282.7 389.0 L1283.1 387.6 L1283.6 386.1 L1284.0 384.7 L1284.4 383.3 L1284.9 381.9 L1285.3 380.4 L1285.8 379.0 L1286.2 377.6 L1286.7 376.2 L1287.1 374.7 L1287.6 373.3 L1288.0 371.9 L1288.5 370.4 L1288.9 369.0 L1289.4 367.6 L1289.8 366.2 L1290.3 364.7 L1290.7 363.3 L1291.2 361.9 L1291.6 360.4 L1292.1 359.0 L1292.6 357.6 L1293.0 356.1 L1293.5 354.7 L1294.0 353.3 L1294.4 351.8 L1294.9 350.4 L1295.4 349.0 L1295.9 347.5 L1296.4 346.1 L1296.8 344.7 L1297.3 343.2 L1297.8 341.8 L1298.3 340.4 L1298.8 338.9 L1299.3 337.5 L1299.7 336.1 L1300.2 334.6 L1300.7 333.2 L1301.2 331.8 L1301.7 330.3 L1302.2 328.9 L1302.7 327.4 L1303.1 326.0 L1303.6 324.6 L1304.1 323.1 L1304.6 321.7 L1305.0 320.3 L1305.5 318.8 L1306.0 317.4 L1306.5 315.9 L1306.9 314.5 L1307.4 313.1 L1307.8 311.6 L1308.3 310.2 L1308.8 308.8 L1309.2 307.3 L1309.7 305.9 L1310.1 304.4 L1310.5 303.0 L1311.0 301.6 L1311.4 300.1 L1311.8 298.7 L1312.2 297.2 L1312.6 295.8 L1313.0 294.4 L1313.4 292.9 L1313.8 291.5 L1314.2 290.1 L1314.6 288.6 L1315.0 287.2 L1315.4 285.7 L1315.7 284.3 L1316.1 282.9 L1316.5 281.4 L1316.9 280.0 L1317.2 278.6 L1317.6 277.1 L1318.0 275.7 L1318.4 274.2 L1318.7 272.8 L1319.1 271.4 L1319.5 269.9 L1319.9 268.5 L1320.3 267.1 L1320.6 265.6 L1321.0 264.2 L1321.4 262.8 L1321.8 261.3 L1322.2 259.9 L1322.7 258.5 L1323.1 257.0 L1323.5 255.6 L1323.9 254.2 L1324.3 252.7 L1324.8 251.3 L1325.2 249.9 L1325.7 248.4 L1326.1 247.0 L1326.6 245.6 L1327.0 244.2 L1327.5 242.7 L1327.9 241.3 L1328.4 239.9 L1328.9 238.4 L1329.3 237.0 L1329.8 235.6 L1330.3 234.2 L1330.8 232.7 L1331.3 231.3 L1331.8 229.9 L1332.2 228.5 L1332.7 227.0 L1333.2 225.6 L1333.7 224.2 L1334.2 222.8 L1334.8 221.4 L1335.3 219.9 L1335.8 218.5 L1336.3 217.1 L1336.8 215.7 L1337.3 214.3 L1337.9 212.8 L1338.4 211.4 L1338.9 210.0 L1339.5 208.6 L1340.0 207.2 L1340.5 205.8 L1341.1 204.4 L1341.6 202.9 L1342.1 201.5 L1342.7 200.1 L1343.2 198.7 L1343.8 197.3 L1344.3 195.9 L1344.9 194.5 L1345.4 193.1 L1346.0 191.7 L1346.6 190.3 L1347.1 188.9 L1347.7 187.5 L1348.2 186.1 L1348.8 184.7 L1349.4 183.3 L1349.9 181.9 L1350.5 180.5 L1351.1 179.1 L1351.6 177.7 L1352.2 176.3 L1352.8 174.9 L1353.3 173.5 L1353.9 172.1 L1354.5 170.7 L1355.1 169.3 L1355.6 167.9 L1356.2 166.5 L1356.8 165.2 L1357.3 163.8 L1357.9 162.4 L1358.5 161.0 L1359.1 159.6 L1359.7 158.2 L1360.2 156.9 L1360.8 155.5 L1361.4 154.1 L1362.0 152.7 L1362.6 151.4 L1363.2 150.0 L1363.8 148.6 L1364.4 147.3 L1365.0 145.9 L1365.6 144.5 L1366.2 143.2 L1366.8 141.8 L1367.4 140.5 L1368.1 139.1 L1368.7 137.8 L1369.3 136.4 L1370.0 135.1 L1370.6 133.8 L1371.3 132.4 L1372.0 131.1 L1372.6 129.8 L1373.3 128.4 L1374.0 127.1 L1374.7 125.8 L1375.4 124.5 L1376.1 123.2 L1376.9 121.9 L1377.6 120.6 L1378.3 119.3 L1379.1 118.0 L1379.8 116.7 L1380.6 115.5 L1381.4 114.2 L1382.2 112.9 L1383.0 111.6 L1383.8 110.4 L1384.6 109.1 L1385.5 107.9 L1386.3 106.6 L1387.2 105.4 L1388.0 104.2 L1388.9 103.0 L1389.8 101.7 L1390.7 100.5 L1391.7 99.3 L1392.6 98.1 L1393.6 96.9 L1394.5 95.7 L1395.5 94.6 L1396.5 93.4 L1397.6 92.2 L1398.6 91.0 L1399.6 89.9 L1400.7 88.8 L1401.8 87.6 L1402.9 86.5 L1404.0 85.4 L1405.1 84.3 L1406.3 83.2 L1407.4 82.1 L1408.6 81.1 L1409.8 80.1 L1411.0 79.1 L1412.3 78.2 L1413.5 77.3 L1414.8 76.4 L1416.1 75.6 L1417.4 74.9 L1418.7 74.2 L1420.0 73.6 L1421.4 73.0 L1422.8 72.5 L1424.1 72.1 L1425.6 71.8 L1427.0 71.5 L1428.4 71.3 L1429.8 71.1 L1431.3 71.0 L1432.7 71.0 L1434.2 71.0 L1435.6 71.1 L1437.1 71.3 L1438.5 71.5 L1439.9 71.8 L1441.4 72.1 L1442.8 72.5 L1444.2 72.9 L1445.5 73.4 L1446.9 73.9 L1448.3 74.5 L1449.6 75.1 L1450.9 75.8 L1452.1 76.5 L1453.4 77.2 L1454.6 78.0 L1455.8 78.9 L1457.0 79.7 L1458.1 80.6 L1459.3 81.6 L1460.4 82.5 L1461.4 83.5 L1462.5 84.6 L1463.5 85.6 L1464.5 86.7 L1465.5 87.8 L1466.5 89.0 L1467.5 90.1 L1468.4 91.3 L1469.3 92.5 L1470.2 93.8 L1471.1 95.0 L1472.0 96.3 L1472.8 97.5 L1473.6 98.8 L1474.5 100.1 L1475.3 101.4 L1476.1 102.7 L1476.8 104.1 L1477.6 105.4 L1478.4 106.7 L1479.1 108.1 L1479.8 109.4 L1480.6 110.8 L1481.3 112.1 L1482.0 113.5 L1482.6 114.8 L1483.3 116.2 L1484.0 117.5 L1484.6 118.9 L1485.3 120.2 L1485.9 121.6 L1486.6 123.0 L1487.2 124.3 L1487.8 125.7 L1488.4 127.1 L1489.0 128.5 L1489.6 129.8 L1490.1 131.2 L1490.7 132.6 L1491.3 134.0 L1491.8 135.4 L1492.4 136.7 L1492.9 138.1 L1493.4 139.5 L1494.0 140.9 L1494.5 142.3 L1495.0 143.7 L1495.5 145.1 L1496.0 146.5 L1496.5 147.9 L1497.0 149.3 L1497.5 150.7 L1498.0 152.1 L1498.4 153.5 L1498.9 154.9 L1499.4 156.4 L1499.8 157.8 L1500.3 159.2 L1500.7 160.6 L1501.2 162.0 L1501.6 163.4 L1502.1 164.9 L1502.5 166.3 L1503.0 167.7 L1503.4 169.1 L1503.8 170.6 L1504.3 172.0 L1504.7 173.4 L1505.1 174.9 L1505.6 176.3 L1506.0 177.7 L1506.4 179.2 L1506.8 180.6 L1507.3 182.0 L1507.7 183.5 L1508.1 184.9 L1508.5 186.4 L1508.9 187.8 L1509.3 189.2 L1509.8 190.7 L1510.2 192.1 L1510.6 193.6 L1511.0 195.0 L1511.4 196.5 L1511.8 197.9 L1512.2 199.4 L1512.6 200.8 L1513.0 202.3 L1513.4 203.7 L1513.8 205.2 L1514.2 206.7 L1514.6 208.1 L1515.0 209.6 L1515.4 211.0 L1515.8 212.5 L1516.2 213.9 L1516.6 215.4 L1517.0 216.9 L1517.3 218.3 L1517.7 219.8 L1518.1 221.3 L1518.5 222.7 L1518.9 224.2 L1519.2 225.7 L1519.6 227.1 L1520.0 228.6 L1520.4 230.1 L1520.7 231.5 L1521.1 233.0 L1521.5 234.5 L1521.8 235.9 L1522.2 237.4 L1522.5 238.9 L1522.9 240.3 L1523.3 241.8 L1523.6 243.3 L1524.0 244.7 L1524.3 246.2 L1524.7 247.7 L1525.0 249.2 L1525.3 250.6 L1525.7 252.1 L1526.0 253.6 L1526.4 255.0 L1526.7 256.5 L1527.0 258.0 L1527.3 259.5 L1527.7 260.9 L1528.0 262.4 L1528.3 263.9 L1528.6 265.3 L1529.0 266.8 L1529.3 268.3 L1529.6 269.8 L1529.9 271.2 L1530.2 272.7 L1530.5 274.2 L1530.8 275.6 L1531.1 277.1 L1531.4 278.6 L1531.7 280.1 L1532.0 281.5 L1532.3 283.0 L1532.6 284.5 L1532.9 286.0 L1533.2 287.4 L1533.5 288.9 L1533.8 290.4 L1534.1 291.9 L1534.4 293.3 L1534.7 294.8 L1535.0 296.3 L1535.3 297.7 L1535.5 299.2 L1535.8 300.7 L1536.1 302.2 L1536.4 303.6 L1536.7 305.1 L1537.0 306.6 L1537.2 308.1 L1537.5 309.5 L1537.8 311.0 L1538.1 312.5 L1538.3 314.0 L1538.6 315.4 L1538.9 316.9 L1539.2 318.4 L1539.4 319.9 L1539.7 321.3 L1540.0 322.8 L1540.3 324.3 L1540.5 325.7 L1540.8 327.2 L1541.1 328.7 L1541.4 330.2 L1541.6 331.6 L1541.9 333.1 L1542.2 334.6 L1542.4 336.1 L1542.7 337.5 L1543.0 339.0 L1543.2 340.5 L1543.5 342.0 L1543.8 343.4 L1544.1 344.9 L1544.3 346.4 L1544.6 347.9 L1544.9 349.3 L1545.1 350.8 L1545.4 352.3 L1545.7 353.8 L1546.0 355.2 L1546.2 356.7 L1546.5 358.2 L1546.8 359.6 L1547.1 361.1 L1547.3 362.6 L1547.6 364.1 L1547.9 365.5 L1548.2 367.0 L1548.4 368.5 L1548.7 370.0 L1549.0 371.4 L1549.3 372.9 L1549.6 374.4 L1549.8 375.9 L1550.1 377.3 L1550.4 378.8 L1550.7 380.3 L1551.0 381.8 L1551.3 383.2 L1551.5 384.7 L1551.8 386.2 L1552.1 387.7 L1552.4 389.1 L1552.7 390.6 L1553.0 392.1 L1553.3 393.5 L1553.6 395.0 L1553.9 396.5 L1554.2 398.0 L1554.5 399.4 L1554.8 400.9 L1555.1 402.4 L1555.4 403.9 L1555.7 405.3 L1556.0 406.8 L1556.3 408.3 L1556.6 409.7 L1556.9 411.2 L1557.2 412.7 L1557.5 414.2 L1557.8 415.6 L1558.1 417.1 L1558.4 418.6 L1558.7 420.1 L1559.0 421.5 L1559.3 423.0 L1559.7 424.5 L1560.0 425.9 L1560.3 427.4 L1560.6 428.9 L1560.9 430.4 L1561.2 431.8 L1561.5 433.3 L1561.8 434.8 L1562.2 436.2 L1562.5 437.7 L1562.8 439.2 L1563.1 440.7 L1563.4 442.1 L1563.7 443.6 L1564.0 445.1 L1564.4 446.5 L1564.7 448.0 L1565.0 449.5 L1565.3 451.0 L1565.6 452.4 L1565.9 453.9 L1566.3 455.4 L1566.6 456.8 L1566.9 458.3 L1567.2 459.8 L1567.5 461.3 L1567.8 462.7 L1568.2 464.2 L1568.5 465.7 L1568.8 467.1 L1569.1 468.6 L1569.4 470.1 L1569.8 471.5 L1570.1 473.0 L1570.4 474.5 L1570.7 475.9 L1571.0 477.4 L1571.3 478.9 L1571.7 480.4 L1572.0 481.8 L1572.3 483.3 L1572.6 484.8 L1572.9 486.2 L1573.2 487.7 L1573.6 489.2 L1573.9 490.6 L1574.2 492.1 L1574.5 493.6 L1574.8 495.0 L1575.1 496.5 L1575.5 498.0 L1575.8 499.4 L1576.1 500.9 L1576.4 502.4 L1576.7 503.8 L1577.0 505.3 L1577.3 506.8 L1577.7 508.2 L1578.0 509.7 L1578.3 511.2 L1578.6 512.6 L1578.9 514.1 L1579.2 515.6 L1579.5 517.0 L1579.8 518.5 L1580.1 520.0 L1580.4 521.4 L1580.7 522.9 L1581.0 524.4 L1581.4 525.8 L1581.7 527.3 L1582.0 528.7 L1582.3 530.2 L1582.6 531.7 L1582.9 533.1 L1583.2 534.6 L1583.5 536.1 L1583.8 537.5 L1584.1 539.0 L1584.4 540.4 L1584.7 541.9 L1585.0 543.4 L1585.3 544.8 L1585.6 546.3 L1586.0 547.8 L1586.3 549.2 L1586.6 550.7 L1586.9 552.1 L1587.2 553.6 L1587.5 555.1 L1587.8 556.5 L1588.2 558.0 L1588.5 559.4 L1588.8 560.9 L1589.1 562.4 L1589.4 563.8 L1589.8 565.3 L1590.1 566.7 L1590.4 568.2 L1590.7 569.7 L1591.1 571.1 L1591.4 572.6 L1591.7 574.0 L1592.1 575.5 L1592.4 576.9 L1592.7 578.4 L1593.1 579.8 L1593.4 581.3 L1593.8 582.8 L1594.1 584.2 L1594.5 585.7 L1594.8 587.1 L1595.2 588.6 L1595.6 590.0 L1595.9 591.5 L1596.3 592.9 L1596.6 594.4 L1597.0 595.8 L1597.4 597.3 L1597.8 598.7 L1598.1 600.2 L1598.5 601.6 L1598.9 603.1 L1599.3 604.5 L1599.7 606.0 L1600.1 607.4 L1600.5 608.9 L1600.9 610.3 L1601.3 611.8 L1601.7 613.2 L1602.1 614.7 L1602.6 616.1 L1603.0 617.6 L1603.4 619.0 L1603.8 620.5 L1604.3 621.9 L1604.7 623.4 L1605.1 624.8 L1605.6 626.3 L1606.0 627.7 L1606.5 629.1 L1607.0 630.6 L1607.4 632.0 L1607.9 633.5 L1608.4 634.9 L1608.8 636.4 L1609.3 637.8 L1609.8 639.2 L1610.3 640.7 L1610.8 642.1 L1611.3 643.6 L1611.8 645.0 L1612.3 646.4 L1612.9 647.9 L1613.4 649.3 L1613.9 650.7 L1614.5 652.2 L1615.0 653.6 L1615.5 655.1 L1616.1 656.5 L1616.7 657.9 L1617.2 659.3 L1617.8 660.8 L1618.4 662.2 L1619.0 663.6 L1619.6 665.0 L1620.2 666.4 L1620.8 667.9 L1621.4 669.3 L1622.0 670.7 L1622.7 672.0 L1623.3 673.4 L1624.0 674.8 L1624.6 676.2 L1625.3 677.6 L1626.0 678.9 L1626.7 680.3 L1627.4 681.6 L1628.1 682.9 L1628.8 684.3 L1629.6 685.6 L1630.3 686.9 L1631.1 688.2 L1631.8 689.5 L1632.6 690.8 L1633.4 692.0 L1634.2 693.3 L1635.0 694.5 L1635.9 695.8 L1636.7 697.0 L1637.6 698.2 L1638.4 699.4 L1639.3 700.6 L1640.2 701.7 L1641.1 702.9 L1642.0 704.0 L1643.0 705.2 L1643.9 706.3 L1644.9 707.4 L1645.9 708.5 L1646.9 709.5 L1647.9 710.6 L1648.9 711.6 L1650.0 712.6 L1651.0 713.6 L1652.1 714.6 L1653.2 715.5 L1654.3 716.5 L1655.4 717.4 L1656.6 718.3 L1657.7 719.2 L1658.9 720.1 L1660.1 720.9 L1661.3 721.8 L1662.5 722.6 L1663.7 723.4 L1665.0 724.1 L1666.2 724.9 L1667.5 725.6 L1668.8 726.3 L1670.1 727.0 L1671.4 727.7 L1672.7 728.4 L1674.1 729.0 L1675.4 729.7 L1676.7 730.3 L1678.1 730.8 L1679.5 731.4 L1680.9 732.0 L1682.3 732.5 L1683.7 733.0 L1685.1 733.5 L1686.5 733.9 L1687.9 734.4 L1689.4 734.8 L1690.8 735.2 L1692.3 735.5 L1693.7 735.9 L1695.2 736.1 L1696.7 736.4 L1698.2 736.7 L1699.7 736.9 L1701.2 737.1 L1702.7 737.4 L1704.2 737.6 L1705.7 737.7 L1707.2 737.9 L1708.7 738.1 L1710.2 738.2 L1711.7 738.4 L1713.3 738.5 L1714.8 738.6 L1716.3 738.7 L1717.9 738.8 L1719.4 738.9 L1721.0 739.0 L1722.5 739.1 L1724.1 739.2 L1725.6 739.2 L1727.2 739.3 L1728.7 739.4 L1730.2 739.4 L1731.8 739.5 L1733.3 739.5 L1734.9 739.6 L1736.4 739.6 L1738.0 739.7 L1739.5 739.7 L1741.1 739.7 L1742.6 739.8 L1744.1 739.8 L1745.7 739.8 L1747.2 739.9 L1748.7 739.9 L1750.2 739.9 L1751.7 739.9 L1753.3 739.9 L1754.8 740.0 L1756.3 740.0 L1757.8 740.0 L1759.3 740.0 L1760.8 740.0 L1762.3 740.0 L1763.8 740.0 L1765.2 740.1 L1766.7 740.1 L1768.2 740.1 L1769.7 740.1 L1771.2 740.1 L1772.7 740.1 L1774.1 740.1 L1775.6 740.1 L1777.1 740.1 L1778.6 740.1 L1780.0 740.1 L1781.5 740.1 L1783.0 740.1 L1784.5 740.1 L1785.9 740.1 L1787.4 740.1 L1788.9 740.2 L1790.3 740.2 L1791.8 740.2 L1793.3 740.2 L1794.8 740.2 L1796.2 740.2 L1797.7 740.2 L1799.2 740.2 L1800.7 740.2 L1802.1 740.2 L1803.6 740.2 L1805.1 740.2 L1806.6 740.2 L1808.0 740.2 L1809.5 740.2 L1811.0 740.2 L1812.5 740.2 L1814.0 740.2 L1815.5 740.2 L1817.0 740.2 L1818.5 740.2 L1820.0 740.2 L1821.5 740.2 L1823.0 740.2 L1824.5 740.2 L1826.0 740.2 L1827.6 740.2 L1829.1 740.2 L1830.6 740.2 L1832.1 740.2 L1833.7 740.2 L1835.2 740.2 L1836.8 740.2 L1838.3 740.2 L1839.9 740.2 L1841.4 740.2 L1843.0 740.2 L1844.6 740.2" fill="none" stroke="#000" stroke-width="1.3" stroke-linejoin="round"/>
<circle cx="1412.4" cy="80.0" r="6.2" fill="none" stroke="#21701f" stroke-width="1.4"/>
<circle cx="1465.5" cy="84.0" r="6.2" fill="none" stroke="#21701f" stroke-width="1.4"/>
<circle cx="1468.3" cy="85.9" r="6.2" fill="none" stroke="#21701f" stroke-width="1.4"/>
<circle cx="1467.3" cy="89.8" r="6.2" fill="none" stroke="#21701f" stroke-width="1.4"/>
<circle cx="1470.5" cy="91.5" r="6.2" fill="none" stroke="#21701f" stroke-width="1.4"/>
<circle cx="1469.6" cy="95.3" r="6.2" fill="none" stroke="#21701f" stroke-width="1.4"/>
<circle cx="1473.7" cy="96.5" r="6.2" fill="none" stroke="#21701f" stroke-width="1.4"/>
<circle cx="1474.1" cy="99.7" r="6.2" fill="none" stroke="#21701f" stroke-width="1.4"/>
<circle cx="1474.6" cy="102.8" r="6.2" fill="none" stroke="#21701f" stroke-width="1.4"/>
<circle cx="1478.5" cy="104.1" r="6.2" fill="none" stroke="#21701f" stroke-width="1.4"/>
<circle cx="1477.8" cy="107.9" r="6.2" fill="none" stroke="#21701f" stroke-width="1.4"/>
<circle cx="1480.6" cy="109.8" r="6.2" fill="none" stroke="#21701f" stroke-width="1.4"/>
<circle cx="1479.9" cy="113.5" r="6.2" fill="none" stroke="#21701f" stroke-width="1.4"/>
<circle cx="1483.9" cy="114.8" r="6.2" fill="none" stroke="#21701f" stroke-width="1.4"/>
<circle cx="1483.7" cy="118.2" r="6.2" fill="none" stroke="#21701f" stroke-width="1.4"/>
<circle cx="1486.0" cy="120.4" r="6.2" fill="none" stroke="#21701f" stroke-width="1.4"/>
<circle cx="1485.5" cy="124.1" r="6.2" fill="none" stroke="#21701f" stroke-width="1.4"/>
<circle cx="1489.8" cy="125.1" r="6.2" fill="none" stroke="#21701f" stroke-width="1.4"/>
<circle cx="1489.1" cy="128.9" r="6.2" fill="none" stroke="#21701f" stroke-width="1.4"/>
<circle cx="1491.5" cy="131.0" r="6.2" fill="none" stroke="#21701f" stroke-width="1.4"/>
<circle cx="1493.7" cy="133.2" r="6.2" fill="none" stroke="#21701f" stroke-width="1.4"/>
<circle cx="1493.1" cy="136.9" r="6.2" fill="none" stroke="#21701f" stroke-width="1.4"/>
<circle cx="1495.9" cy="138.8" r="6.2" fill="none" stroke="#21701f" stroke-width="1.4"/>
<circle cx="1507.9" cy="175.2" r="6.2" fill="none" stroke="#21701f" stroke-width="1.4"/>
<circle cx="1520.0" cy="221.0" r="6.2" fill="none" stroke="#21701f" stroke-width="1.4"/>
<circle cx="1529.8" cy="256.2" r="6.2" fill="none" stroke="#21701f" stroke-width="1.4"/>
<circle cx="1531.0" cy="266.3" r="6.2" fill="none" stroke="#21701f" stroke-width="1.4"/>
<text x="1721.45" y="695.00" font-size="40.00" fill="#000" textLength="138.26" lengthAdjust="spacingAndGlyphs">GS Rod</text>
<line x1="1922.4" y1="37.3" x2="1922.4" y2="775" stroke="#000" stroke-width="1.8"/>
<line x1="1921.5" y1="774.0" x2="2092.3" y2="774.0" stroke="#000" stroke-width="1.8"/>
<line x1="1915.4" y1="71.0" x2="1922.4" y2="71.0" stroke="#333" stroke-width="1.5"/>
<line x1="1915.4" y1="238.3" x2="1922.4" y2="238.3" stroke="#333" stroke-width="1.5"/>
<line x1="1915.4" y1="405.1" x2="1922.4" y2="405.1" stroke="#333" stroke-width="1.5"/>
<line x1="1915.4" y1="572.5" x2="1922.4" y2="572.5" stroke="#333" stroke-width="1.5"/>
<line x1="1915.4" y1="740.1" x2="1922.4" y2="740.1" stroke="#333" stroke-width="1.5"/>
<line x1="1930.2" y1="774.2" x2="1930.2" y2="778.5" stroke="#333" stroke-width="1.5"/>
<text x="1923.64" y="799.80" font-size="19.29" fill="#4d4d4d" textLength="10.12" lengthAdjust="spacingAndGlyphs">0</text>
<line x1="1965.6" y1="774.2" x2="1965.6" y2="778.5" stroke="#333" stroke-width="1.5"/>
<text x="1948.58" y="799.80" font-size="19.29" fill="#4d4d4d" textLength="30.37" lengthAdjust="spacingAndGlyphs">100</text>
<line x1="2001.0" y1="774.2" x2="2001.0" y2="778.5" stroke="#333" stroke-width="1.5"/>
<text x="1984.21" y="799.80" font-size="19.29" fill="#4d4d4d" textLength="30.37" lengthAdjust="spacingAndGlyphs">200</text>
<line x1="2036.4" y1="774.2" x2="2036.4" y2="778.5" stroke="#333" stroke-width="1.5"/>
<text x="2019.73" y="799.80" font-size="19.29" fill="#4d4d4d" textLength="30.37" lengthAdjust="spacingAndGlyphs">300</text>
<line x1="2071.8" y1="774.2" x2="2071.8" y2="778.5" stroke="#333" stroke-width="1.5"/>
<text x="2055.26" y="799.80" font-size="19.29" fill="#4d4d4d" textLength="30.37" lengthAdjust="spacingAndGlyphs">400</text>
<path d="M1929.6 505.2 L1929.6 387 L1931 387 L1931 390.8 L1933 390.8 L1933 395.5 L1940 395.5 L1940 400.9 L1945 400.9 L1945 406.3 L1951 406.3 L1951 408.6 L1959 408.6 L1959 411.7 L1962 411.7 L1962 414 L1983 414 L1983 417.1 L1990 417.1 L1990 420.2 L2003 420.2 L2003 422.5 L2022 422.5 L2022 426.4 L2041 426.4 L2041 431.8 L2049 431.8 L2049 434.9 L2070 434.9 L2070 437.2 L2076 437.2 L2076 440.3 L2084.5 440.3 L2084.5 445.7 L2076 445.7 L2076 448 L2069 448 L2069 451.8 L2055 451.8 L2055 456.5 L2036 456.5 L2036 459.6 L2021 459.6 L2021 464.2 L2000 464.2 L2000 468.1 L1983 468.1 L1983 470.4 L1975 470.4 L1975 473.5 L1958 473.5 L1958 477.3 L1948 477.3 L1948 482 L1940 482 L1940 485 L1937 485 L1937 489.7 L1932 489.7 L1932 494.3 L1930.6 494.3 L1930.6 505.2 Z" fill="#0000ff"/>
<line x1="1930.1" y1="387" x2="1930.1" y2="505.2" stroke="#00008a" stroke-width="1"/>
<text x="1945.32" y="53.80" font-size="25.55" fill="#2b2b2b" textLength="160.64" lengthAdjust="spacingAndGlyphs">Randomization</text>
<text x="1964.32" y="78.00" font-size="25.55" fill="#2b2b2b" textLength="120.54" lengthAdjust="spacingAndGlyphs">Distribution</text>
<text x="1956.06" y="843.60" font-size="25.55" fill="#333" textLength="135.60" lengthAdjust="spacingAndGlyphs">Null samples</text>
<text x="-0.05" y="0" font-size="25.30" fill="#222" textLength="89.82" lengthAdjust="spacingAndGlyphs" transform="translate(1915.0 539.3) rotate(-90)">Average</text>
<text x="-1.23" y="0" font-size="25.30" fill="#222" textLength="35.25" lengthAdjust="spacingAndGlyphs" transform="translate(1915.0 445.3) rotate(-90)">GS</text>
<text x="-1.91" y="0" font-size="25.30" fill="#222" textLength="42.82" lengthAdjust="spacingAndGlyphs" transform="translate(1915.0 401.4) rotate(-90)">Rod</text>
<text x="-1.09" y="0" font-size="25.30" fill="#222" textLength="107.73" lengthAdjust="spacingAndGlyphs" transform="translate(1915.0 350.2) rotate(-90)">Sensitivity</text>
<text x="1941.04" y="718.90" font-size="31.20" fill="#000" textLength="132.16" lengthAdjust="spacingAndGlyphs">10,000iter</text>
<text y="756.20" font-size="31.20" fill="#000"><tspan x="1940.58" textLength="16.57" lengthAdjust="spacingAndGlyphs">p</tspan><tspan> </tspan><tspan x="1962.47" textLength="16.95" lengthAdjust="spacingAndGlyphs">&lt;</tspan><tspan> </tspan><tspan x="1983.27" textLength="88.24" lengthAdjust="spacingAndGlyphs">0.0001</tspan></text>
</svg>
</body></html>
